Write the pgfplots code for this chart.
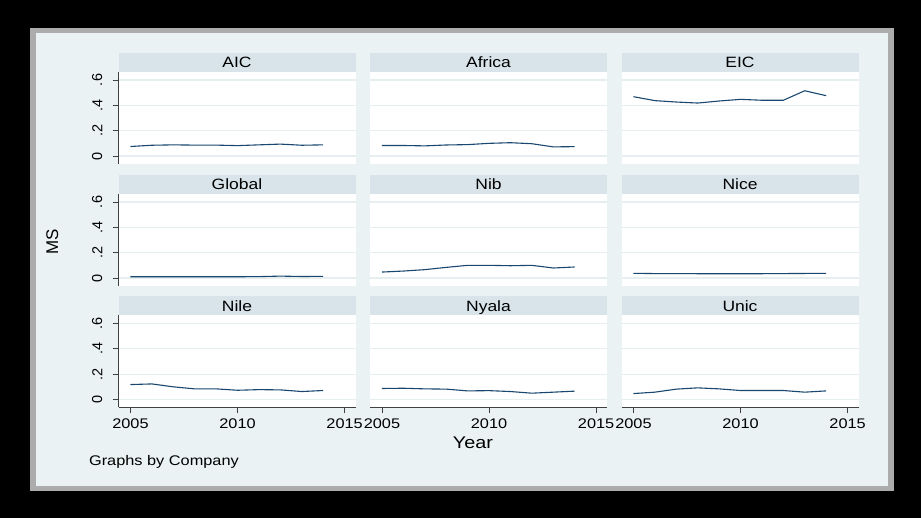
\documentclass[border=0pt]{standalone}
\usepackage{pgfplots}
\pgfplotsset{compat=1.18}
\usepackage{pgfplotstable}
\usepackage{fontspec}
\setmainfont{Liberation Sans}

\definecolor{statanavy}{RGB}{26,71,111}
\definecolor{bggray}{RGB}{234,242,243}
\definecolor{strip}{RGB}{216,228,234}
\definecolor{gridc}{RGB}{230,238,240}
\definecolor{axisc}{RGB}{64,64,64}

% market share by company, 2005-2014
\pgfplotstableread{
year  AIC   Africa EIC   Global Nib   Nice  Nile  Nyala Unic
2005  0.075 0.083  0.468 0.010  0.047 0.037 0.118 0.087 0.047
2006  0.085 0.083  0.437 0.010  0.055 0.035 0.123 0.089 0.058
2007  0.088 0.080  0.426 0.010  0.066 0.035 0.100 0.084 0.082
2008  0.086 0.087  0.418 0.010  0.084 0.034 0.084 0.082 0.092
2009  0.086 0.090  0.434 0.010  0.100 0.034 0.084 0.068 0.084
2010  0.082 0.100  0.447 0.010  0.100 0.034 0.073 0.070 0.071
2011  0.088 0.105  0.440 0.011  0.097 0.034 0.078 0.063 0.071
2012  0.094 0.097  0.440 0.015  0.100 0.035 0.076 0.050 0.071
2013  0.085 0.072  0.515 0.012  0.079 0.036 0.063 0.058 0.058
2014  0.088 0.074  0.476 0.013  0.087 0.037 0.071 0.066 0.068
}\ms

\pgfplotsset{
  panel/.style={
    scale only axis, width=237bp, height=92bp, anchor=north west,
    xmin=2004.44, xmax=2015.51, ymin=-0.063, ymax=0.663,
    xtick={2005,2010,2015}, xticklabels={2005,2010,2015},
    ytick={0,0.2,0.4,0.6}, yticklabels={0,.2,.4,.6},
    separate axis lines, axis x line*=bottom, axis y line*=left,
    axis line style={-, axisc, line width=0.9bp},
    tick align=outside, major tick length=6bp,
    tick style={axisc, line width=0.9bp},
    ymajorgrids, grid style={gridc, line width=1.2bp},
    axis background/.style={fill=white},
    every axis title shift=0pt,
    title style={at={(0.5,1)}, anchor=south, fill=strip,
      minimum width=202.56bp, minimum height=19bp, inner sep=0pt, outer sep=0pt,
      text height=10.5bp, text depth=0pt,
      font=\fontsize{15}{15}\selectfont, xscale=1.17},
    xticklabel style={font=\fontsize{14}{14}\selectfont, xscale=1.17,
      inner sep=0pt, text height=10bp, text depth=0pt, anchor=north},
    xticklabel shift=5bp,
    yticklabel style={font=\fontsize{14.5}{14.5}\selectfont, rotate=90,
      anchor=south, inner sep=0pt},
    yticklabel shift=10bp,
  },
  nox/.style={x axis line style={draw=none}, xtick style={draw=none}, xticklabels={}},
  noy/.style={y axis line style={draw=none}, ytick style={draw=none}, yticklabels={}},
  ln/.style={statanavy, line width=1.1bp, mark=none},
}

\begin{document}
\begin{tikzpicture}
\path[use as bounding box] (0,0) rectangle (921bp,518bp);
\fill[black] (0,0) rectangle (921bp,518bp);
\fill[gray!65] (30bp,27bp) rectangle (894bp,490bp);
\fill[bggray] (36bp,32bp) rectangle (888bp,485bp);

% row 1
\begin{axis}[panel, nox, at={(118.5bp,446bp)}, title={AIC}]
  \addplot[ln] table[x=year, y=AIC] {\ms};
\end{axis}
\begin{axis}[panel, nox, noy, at={(370bp,446bp)}, title={Africa}]
  \addplot[ln] table[x=year, y=Africa] {\ms};
\end{axis}
\begin{axis}[panel, nox, noy, at={(621.5bp,446bp)}, title={EIC}]
  \addplot[ln] table[x=year, y=EIC] {\ms};
\end{axis}

% row 2
\begin{axis}[panel, nox, at={(118.5bp,324bp)}, title={Global}]
  \addplot[ln] table[x=year, y=Global] {\ms};
\end{axis}
\begin{axis}[panel, nox, noy, at={(370bp,324bp)}, title={Nib}]
  \addplot[ln] table[x=year, y=Nib] {\ms};
\end{axis}
\begin{axis}[panel, nox, noy, at={(621.5bp,324bp)}, title={Nice}]
  \addplot[ln] table[x=year, y=Nice] {\ms};
\end{axis}

% row 3
\begin{axis}[panel, at={(118.5bp,202.5bp)}, title={Nile}]
  \addplot[ln] table[x=year, y=Nile] {\ms};
\end{axis}
\begin{axis}[panel, noy, at={(370bp,202.5bp)}, title={Nyala}]
  \addplot[ln] table[x=year, y=Nyala] {\ms};
\end{axis}
\begin{axis}[panel, noy, at={(621.5bp,202.5bp)}, title={Unic}]
  \addplot[ln] table[x=year, y=Unic] {\ms};
\end{axis}

\node[anchor=base, font=\fontsize{17}{17}\selectfont, xscale=1.17] at (473bp,69.7bp) {Year};
\node[anchor=base, rotate=90, font=\fontsize{17}{17}\selectfont] at (58bp,276bp) {MS};
\node[anchor=base west, font=\fontsize{14}{14}\selectfont, xscale=1.17] at (85bp,52bp) {Graphs by Company};
\end{tikzpicture}
\end{document}
